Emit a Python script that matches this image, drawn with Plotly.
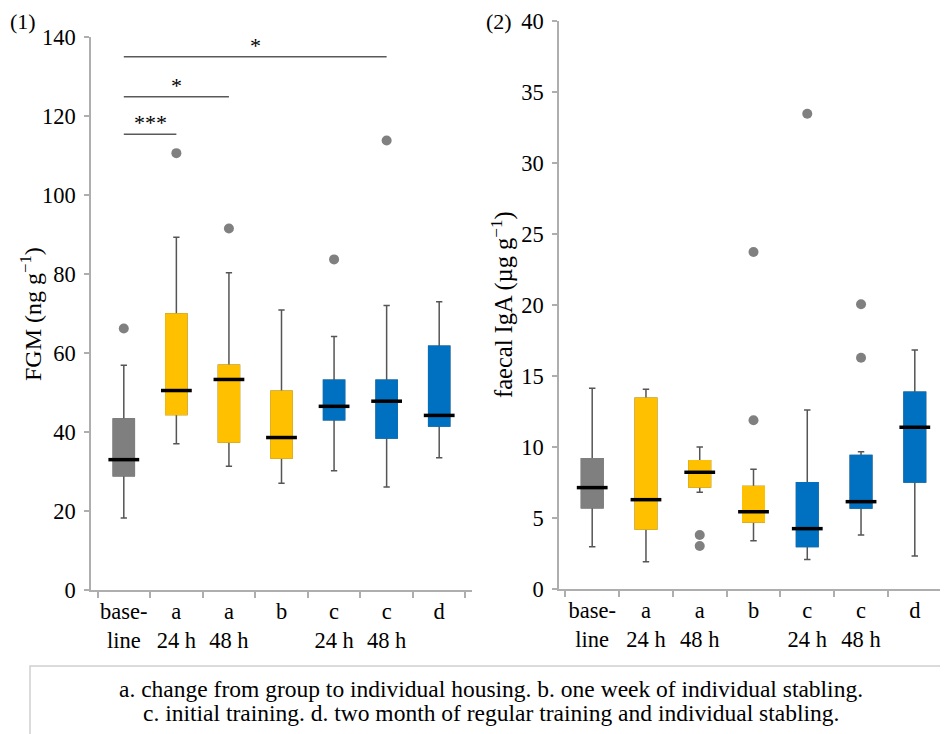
import plotly.graph_objects as go
from plotly.subplots import make_subplots

# ---------------- data ----------------
cats = ["baseline", "a 24 h", "a 48 h", "b", "c 24 h", "c 48 h", "d"]
tick_labels = ["base-<br>line", "a<br>24 h", "a<br>48 h", "b", "c<br>24 h", "c<br>48 h", "d"]
groups = ["grey", "orange", "orange", "orange", "blue", "blue", "blue"]

fgm_low = [18.2, 37.0, 31.3, 27.0, 30.2, 26.1, 33.5]
fgm_q1 = [28.9, 44.4, 37.5, 33.4, 43.1, 38.5, 41.5]
fgm_med = [33.0, 50.5, 53.3, 38.6, 46.5, 47.8, 44.2]
fgm_q3 = [43.3, 69.9, 56.9, 50.3, 53.1, 53.1, 61.7]
fgm_high = [56.9, 89.3, 80.3, 70.9, 64.2, 72.0, 73.0]
fgm_out_cat = ["baseline", "a 24 h", "a 48 h", "c 24 h", "c 48 h"]
fgm_out_val = [66.2, 110.6, 91.5, 83.7, 113.8]

iga_low = [2.98, 1.92, 6.81, 3.40, 2.07, 3.80, 2.32]
iga_q1 = [5.73, 4.23, 7.18, 4.72, 3.00, 5.70, 7.54]
iga_med = [7.14, 6.29, 8.22, 5.44, 4.25, 6.15, 11.39]
iga_q3 = [9.18, 13.43, 9.04, 7.21, 7.49, 9.41, 13.85]
iga_high = [14.13, 14.06, 10.00, 8.43, 12.60, 9.67, 16.83]
iga_out_cat = ["a 48 h", "a 48 h", "b", "b", "c 24 h", "c 48 h", "c 48 h"]
iga_out_val = [3.80, 3.03, 11.88, 23.73, 33.47, 20.05, 16.29]

# significance brackets on FGM panel
sig_from = ["baseline", "baseline", "baseline"]
sig_to = ["a 24 h", "a 48 h", "c 48 h"]
sig_level = [115.4, 124.9, 135.0]
sig_label = ["***", "*", "*"]

footnote_lines = [
    "a. change from group to individual housing. b. one week of individual stabling.",
    "c. initial training. d. two month of regular training and individual stabling.",
]

colors = {"grey": "#7F7F7F", "orange": "#FFC000", "blue": "#0070C0"}
WHISKER = "#555555"
FONT = "Liberation Serif"

# page offset (body margin) and figure size
OFF = 8
W, H = 948 - OFF, 734 - OFF


def px(x):
    return (x - OFF) / W


def py(y):
    return 1 - (y - OFF) / H


fig = make_subplots(rows=1, cols=2)


def add_panel(col, low, q1, med, q3, high, out_cat, out_val):
    for g in ["grey", "orange", "blue"]:
        idx = [i for i, gg in enumerate(groups) if gg == g]
        xs = [cats[i] for i in idx]
        fig.add_trace(go.Box(
            x=xs, q1=[q1[i] for i in idx], median=[med[i] for i in idx],
            q3=[q3[i] for i in idx], lowerfence=[low[i] for i in idx],
            upperfence=[high[i] for i in idx],
            fillcolor=colors[g], line=dict(color=WHISKER, width=1.5),
            whiskerwidth=0.3, width=0.4, boxpoints=False, showlegend=False,
            hoverinfo="skip"), row=1, col=col)
        fig.add_trace(go.Box(
            x=xs, q1=[q1[i] for i in idx], median=[med[i] for i in idx],
            q3=[q3[i] for i in idx], lowerfence=[q1[i] for i in idx],
            upperfence=[q3[i] for i in idx],
            fillcolor=colors[g], line=dict(color=colors[g], width=1.5),
            whiskerwidth=0, width=0.4, boxpoints=False, showlegend=False,
            hoverinfo="skip"), row=1, col=col)
    fig.add_trace(go.Scatter(
        x=cats, y=med, mode="markers",
        marker=dict(symbol="line-ew", size=22, line=dict(color="black", width=3.5)),
        showlegend=False, hoverinfo="skip"), row=1, col=col)
    fig.add_trace(go.Scatter(
        x=out_cat, y=out_val, mode="markers",
        marker=dict(color="#808080", size=10),
        showlegend=False, hoverinfo="skip"), row=1, col=col)


add_panel(1, fgm_low, fgm_q1, fgm_med, fgm_q3, fgm_high, fgm_out_cat, fgm_out_val)
add_panel(2, iga_low, iga_q1, iga_med, iga_q3, iga_high, iga_out_cat, iga_out_val)

for a, b, lvl, lab in zip(sig_from, sig_to, sig_level, sig_label):
    i0, i1 = cats.index(a), cats.index(b)
    fig.add_shape(type="line", xref="x", yref="y", x0=i0, x1=i1, y0=lvl, y1=lvl,
                  line=dict(color="#595959", width=1.5))
    fig.add_annotation(xref="x", yref="y", x=(i0 + i1) / 2, y=lvl, text=lab,
                       showarrow=False, xanchor="center", yanchor="bottom", yshift=-3,
                       font=dict(family=FONT, size=22, color="black"))

axis_common = dict(showline=True, linecolor="#AEAEAE", linewidth=1.5,
                   showgrid=False, zeroline=False, ticks="outside",
                   tickcolor="#AEAEAE", tickwidth=1.5, automargin=False,
                   tickfont=dict(family=FONT, size=22.5, color="black"))

fig.update_xaxes(**axis_common, type="category", categoryorder="array",
                 categoryarray=cats, tickvals=cats, ticktext=tick_labels,
                 tickson="boundaries", ticklen=6, tickangle=0)
fig.update_yaxes(**axis_common, ticklen=5, ticklabelstandoff=4)

fig.update_layout(
    width=W, height=H, margin=dict(l=0, r=0, t=0, b=0),
    paper_bgcolor="white", plot_bgcolor="white", boxmode="overlay",
    font=dict(family=FONT, color="black"),
    xaxis=dict(domain=[px(91), px(472)]),
    xaxis2=dict(domain=[px(559), 1.0]),
    yaxis=dict(domain=[py(590), py(37)], range=[0, 140], dtick=20),
    yaxis2=dict(domain=[py(589), py(21)], range=[0, 40], dtick=5),
)

fig.add_annotation(xref="paper", yref="paper", x=px(31), y=py(314),
                   xanchor="center", yanchor="middle",
                   text="FGM (ng g<sup>\u22121</sup>)", textangle=-90, showarrow=False,
                   font=dict(family=FONT, size=24, color="black"))
fig.add_annotation(xref="paper", yref="paper", x=px(502), y=py(305),
                   xanchor="center", yanchor="middle",
                   text="faecal IgA (\u00b5g g<sup>\u22121</sup>)", textangle=-90, showarrow=False,
                   font=dict(family=FONT, size=24.5, color="black"))

fig.add_annotation(xref="paper", yref="paper", x=px(23), y=py(22), text="(1)",
                   xanchor="center", yanchor="middle",
                   showarrow=False, font=dict(family=FONT, size=22, color="black"))
fig.add_annotation(xref="paper", yref="paper", x=px(499), y=py(21), text="(2)",
                   xanchor="center", yanchor="middle",
                   showarrow=False, font=dict(family=FONT, size=22, color="black"))

fig.add_shape(type="rect", xref="paper", yref="paper", x0=px(30), x1=1.01,
              y0=-0.02, y1=py(666), line=dict(color="#D0D0D0", width=1.5))
for line, yc in zip(footnote_lines, [689, 713]):
    fig.add_annotation(xref="paper", yref="paper", x=px(491), y=py(yc),
                       xanchor="center", yanchor="middle", text=line,
                       showarrow=False, font=dict(family=FONT, size=23.5, color="black"))

fig.write_html("out.html")
